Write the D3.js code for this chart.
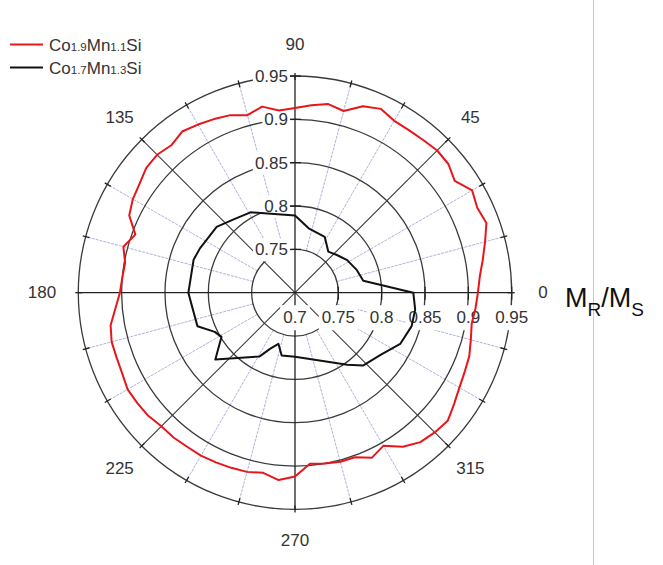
<!DOCTYPE html>
<html>
<head>
<meta charset="utf-8">
<script src="https://cdn.jsdelivr.net/npm/d3@7"></script>
<style>
  html, body { margin: 0; padding: 0; background: #fff; }
  svg { display: block; font-family: "Liberation Sans", Arial, sans-serif; }
</style>
</head>
<body>
<svg id="chart" width="663" height="565"></svg>
<script>
// ---------------- DATA ----------------
const redAngles = [0,5,10,15,20,25,30,35,40,45,50,55,60,65,70,75,80,85,90,95,100,105,110,115,120,125,130,135,140,145,150,155,160,165,170,175,180,185,190,195,200,205,210,215,220,225,230,235,240,245,250,255,260,265,270,275,280,285,290,295,300,305,310,315,320,325,330,335,340,345,350,355];
const redValues = [0.911,0.914,0.920,0.927,0.935,0.932,0.936,0.925,0.931,0.932,0.930,0.929,0.929,0.934,0.929,0.917,0.921,0.917,0.913,0.911,0.918,0.912,0.918,0.921,0.924,0.927,0.922,0.925,0.924,0.919,0.916,0.911,0.896,0.905,0.899,0.900,0.902,0.908,0.916,0.919,0.919,0.920,0.923,0.922,0.921,0.918,0.918,0.917,0.917,0.916,0.915,0.914,0.911,0.917,0.912,0.898,0.900,0.902,0.902,0.910,0.904,0.917,0.925,0.928,0.930,0.924,0.919,0.916,0.914,0.910,0.907,0.909];

const blackAngles = [0,10,20,32,42,51,62,78,90,119,131,140,155,162,180,187,199,206,211,220,241,246,252,258,270,306,313,324,334,344,352];
const blackValues = [0.8365,0.780,0.776,0.771,0.765,0.761,0.773,0.776,0.789,0.806,0.811,0.818,0.821,0.823,0.823,0.820,0.819,0.803,0.799,0.820,0.784,0.771,0.762,0.774,0.774,0.8026,0.815,0.822,0.835,0.840,0.840];

const seriesNames = [
  ["Co","1.9","Mn","1.1","Si"],
  ["Co","1.7","Mn","1.3","Si"]
];
const seriesColors = ["#e8161b", "#111111"];

const radialTicks = [0.7, 0.75, 0.8, 0.85, 0.9, 0.95];
const radialTickLabels = ["0.7", "0.75", "0.8", "0.85", "0.9", "0.95"];
const angleTicks = [0, 45, 90, 135, 180, 225, 270, 315];
const angleTickLabels = ["0", "45", "90", "135", "180", "225", "270", "315"];
const minorAngles = d3.range(0, 360, 15);
const axisTitle = ["M", "R", "/", "M", "S"];

// ---------------- LAYOUT ----------------
const svg = d3.select("#chart");
const cx = 295, cy = 292.7, R = 216.7;
const r = d3.scaleLinear().domain([0.7, 0.95]).range([0, R]);
const toRad = a => a * Math.PI / 180;
const px = (a, rr) => cx + rr * Math.cos(toRad(a));
const py = (a, rr) => cy - rr * Math.sin(toRad(a));

svg.append("rect").attr("width", 663).attr("height", 565).attr("fill", "#fff");

// figure border line on right
svg.append("line").attr("x1", 593.5).attr("x2", 593.5).attr("y1", 0).attr("y2", 565)
  .attr("stroke", "#c9c9c9").attr("stroke-width", 1);

const g = svg.append("g");

// light spokes every 15 deg (excluding 45 multiples)
g.selectAll(".spoke").data(minorAngles.filter(a => a % 45 !== 0)).join("line")
  .attr("x1", a => px(a, r(0.75))).attr("y1", a => py(a, r(0.75)))
  .attr("x2", a => px(a, R)).attr("y2", a => py(a, R))
  .attr("stroke", "#aeb2dc").attr("stroke-width", 1).attr("stroke-dasharray", "3,1");

// circles
g.selectAll(".ring").data(radialTicks.filter(v => v > 0.7)).join("circle")
  .attr("cx", cx).attr("cy", cy).attr("r", v => r(v))
  .attr("fill", "none").attr("stroke", "#3a3a3a").attr("stroke-width", 1.3);

// diagonals
g.selectAll(".diag").data([45, 135, 225, 315]).join("line")
  .attr("x1", cx).attr("y1", cy)
  .attr("x2", a => px(a, R)).attr("y2", a => py(a, R))
  .attr("stroke", "#3a3a3a").attr("stroke-width", 1.1);

// main axes
g.append("line").attr("x1", cx - R).attr("x2", cx + R).attr("y1", cy).attr("y2", cy)
  .attr("stroke", "#222").attr("stroke-width", 1.3);
g.append("line").attr("x1", cx).attr("x2", cx).attr("y1", cy - R).attr("y2", cy + R)
  .attr("stroke", "#222").attr("stroke-width", 1.3);

// small ticks on outer circle
g.selectAll(".otick").data(minorAngles).join("line")
  .attr("x1", a => px(a, R - 4)).attr("y1", a => py(a, R - 4))
  .attr("x2", a => px(a, R + 3)).attr("y2", a => py(a, R + 3))
  .attr("stroke", "#222").attr("stroke-width", 1.3);

// radial ticks on vertical axis
g.selectAll(".vtick").data(radialTicks.filter(v => v > 0.7)).join("line")
  .attr("x1", cx - 5).attr("x2", cx + 6)
  .attr("y1", v => cy - r(v)).attr("y2", v => cy - r(v))
  .attr("stroke", "#222").attr("stroke-width", 1.3);
// radial ticks on horizontal axis
g.selectAll(".htick").data(radialTicks.filter(v => v > 0.7)).join("line")
  .attr("y1", cy - 6).attr("y2", cy + 7)
  .attr("x1", v => cx + r(v)).attr("x2", v => cx + r(v))
  .attr("stroke", "#222").attr("stroke-width", 1.3);

// labels with white boxes
function boxedText(parent, x, y, txt, anchor, padX, padY) {
  const gg = parent.append("g");
  const t = gg.append("text").attr("x", x).attr("y", y)
    .attr("text-anchor", anchor).attr("font-size", 17).attr("fill", "#333")
    .text(txt);
  const bb = t.node().getBBox();
  gg.insert("rect", "text").attr("x", bb.x - padX).attr("y", bb.y - padY + 2)
    .attr("width", bb.width + 2 * padX).attr("height", bb.height + 2 * padY - 4)
    .attr("fill", "#fff");
  return gg;
}
const labG = svg.append("g");
radialTicks.forEach((v, i) => {
  if (v > 0.7) boxedText(labG, cx - 7, cy - r(v) + 6, radialTickLabels[i], "end", 2, 4);
});
radialTicks.forEach((v, i) => {
  boxedText(labG, cx + r(v), cy + 30.5, radialTickLabels[i], "middle", 3, 5);
});

// data lines
const line = d3.lineRadial()
  .angle(d => toRad(90 - d.a))
  .radius(d => r(d.v))
  .curve(d3.curveLinearClosed);
const series = [
  redAngles.map((a, i) => ({a, v: redValues[i]})),
  blackAngles.map((a, i) => ({a, v: blackValues[i]}))
];
const dataG = svg.append("g").attr("transform", `translate(${cx},${cy})`);
series.forEach((s, i) => {
  dataG.append("path").attr("d", line(s)).attr("fill", "none")
    .attr("stroke", seriesColors[i]).attr("stroke-width", 2).attr("stroke-linejoin", "round");
});

// angle labels
angleTicks.forEach((a, i) => {
  const rr = 248 + (a === 180 ? 5 : 0);
  svg.append("text").attr("x", px(a, rr)).attr("y", py(a, rr))
    .attr("text-anchor", "middle").attr("dominant-baseline", "central")
    .attr("font-size", 17).attr("fill", "#333").text(angleTickLabels[i]);
});

// legend
seriesNames.forEach((parts, i) => {
  const y = 44.5 + i * 23;
  svg.append("line").attr("x1", 10).attr("x2", 43).attr("y1", y).attr("y2", y)
    .attr("stroke", seriesColors[i]).attr("stroke-width", 2);
  const t = svg.append("text").attr("x", 49).attr("y", y + 6).attr("font-size", 17).attr("fill", "#333");
  parts.forEach((p, j) => {
    const sub = j % 2 === 1;
    t.append("tspan").attr("font-size", sub ? 11.5 : 17)
      .attr("dy", sub ? 0.5 : (j > 0 ? -0.5 : 0)).text(p);
  });
});

// axis title M_R/M_S
const tt = svg.append("text").attr("x", 565).attr("y", 307).attr("font-size", 27).attr("fill", "#111");
axisTitle.forEach((p, j) => {
  const sub = (j === 1 || j === 4);
  tt.append("tspan").attr("font-size", sub ? 19 : 27)
    .attr("dy", sub ? 9 : (j === 2 ? -9 : 0)).text(p);
});
</script>
</body>
</html>
